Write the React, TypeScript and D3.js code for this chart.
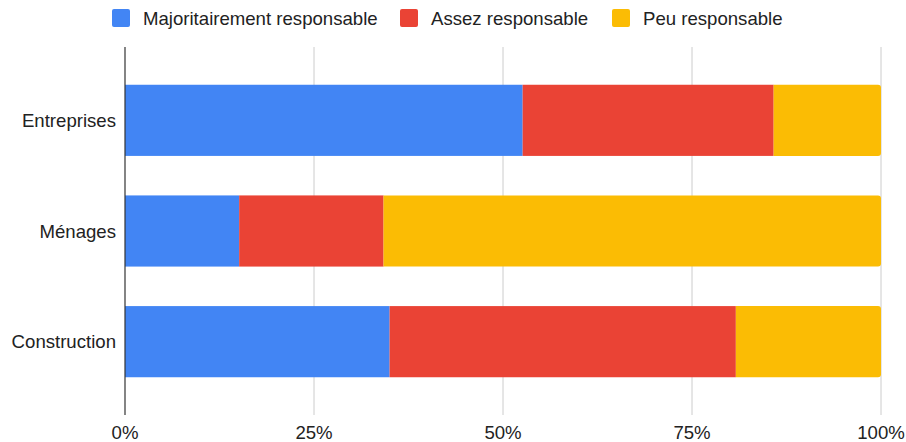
import React, { useEffect, useRef } from "react";
import * as d3 from "d3";

const categories = ["Entreprises", "Ménages", "Construction"];
const seriesNames = ["Majoritairement responsable", "Assez responsable", "Peu responsable"];
const majoritairement = [52.6, 15.1, 35.0];
const assez = [33.2, 19.1, 45.8];
const peu = [14.2, 65.8, 19.2];
const colors = ["#4285F4", "#EA4335", "#FBBC04"];
const tickValues = [0, 25, 50, 75, 100];

const App = () => {
  const svgRef = useRef<SVGSVGElement>(null);

  useEffect(() => {
    if (!svgRef.current) return;
    const width = 906;
    const height = 442;
    const left = 125;
    const right = 881;
    const gridTop = 47;
    const gridBottom = 415;
    const font = "'Liberation Sans', Arial, sans-serif";
    const fontSize = 18.6;

    d3.select(svgRef.current).selectAll("*").remove();
    const svg = d3.select(svgRef.current)
      .attr("width", width)
      .attr("height", height)
      .attr("viewBox", [0, 0, width, height]);

    const x = d3.scaleLinear().domain([0, 100]).range([left, right]);
    const y = d3.scaleBand<string>()
      .domain(categories)
      .range([65, 397])
      .paddingInner(0.357)
      .paddingOuter(0.1785);

    // Gridlines
    svg.append("g")
      .selectAll("line")
      .data(tickValues.filter(d => d > 0))
      .join("line")
      .attr("x1", d => x(d))
      .attr("x2", d => x(d))
      .attr("y1", gridTop)
      .attr("y2", gridBottom)
      .attr("stroke", "#cccccc")
      .attr("stroke-width", 1);

    // Stacked bars
    const table = categories.map((c, i) => ({
      category: c,
      s0: majoritairement[i],
      s1: assez[i],
      s2: peu[i],
    }));
    const stack = d3.stack<any>().keys(["s0", "s1", "s2"])(table);

    stack.forEach((layer, li) => {
      const g = svg.append("g").attr("fill", colors[li]);
      layer.forEach(seg => {
        const x0 = x(seg[0]);
        const x1 = x(seg[1]);
        const y0 = y(seg.data.category)!;
        const h = y.bandwidth();
        if (li === stack.length - 1) {
          const r = 3;
          g.append("path").attr(
            "d",
            `M${x0},${y0}H${x1 - r}Q${x1},${y0} ${x1},${y0 + r}V${y0 + h - r}Q${x1},${y0 + h} ${x1 - r},${y0 + h}H${x0}Z`
          );
        } else {
          g.append("rect")
            .attr("x", x0)
            .attr("y", y0)
            .attr("width", x1 - x0)
            .attr("height", h);
        }
      });
    });

    // Baseline axis
    svg.append("line")
      .attr("x1", x(0))
      .attr("x2", x(0))
      .attr("y1", gridTop)
      .attr("y2", gridBottom)
      .attr("stroke", "#333333")
      .attr("stroke-width", 1.2);

    // Tick labels
    svg.append("g")
      .selectAll("text")
      .data(tickValues)
      .join("text")
      .attr("x", d => x(d))
      .attr("y", 439)
      .attr("text-anchor", "middle")
      .attr("font-family", font)
      .attr("font-size", fontSize)
      .attr("fill", "#222222")
      .text(d => `${d}%`);

    // Category labels
    svg.append("g")
      .selectAll("text")
      .data(categories)
      .join("text")
      .attr("x", 116)
      .attr("y", d => y(d)! + y.bandwidth() / 2)
      .attr("dy", "0.35em")
      .attr("text-anchor", "end")
      .attr("font-family", font)
      .attr("font-size", fontSize)
      .attr("fill", "#222222")
      .text(d => d);

    // Legend
    const legendX = [112, 400, 612];
    const legend = svg.append("g");
    seriesNames.forEach((name, i) => {
      legend.append("rect")
        .attr("x", legendX[i])
        .attr("y", 9)
        .attr("width", 18)
        .attr("height", 18)
        .attr("rx", 2)
        .attr("fill", colors[i]);
      legend.append("text")
        .attr("x", legendX[i] + 31)
        .attr("y", 18)
        .attr("dy", "0.35em")
        .attr("font-family", font)
        .attr("font-size", fontSize)
        .attr("fill", "#222222")
        .text(name);
    });
  }, []);

  return (
    <div style={{ position: "absolute", left: 0, top: 0 }}>
      <svg ref={svgRef} style={{ display: "block" }}></svg>
    </div>
  );
};

export default App;
